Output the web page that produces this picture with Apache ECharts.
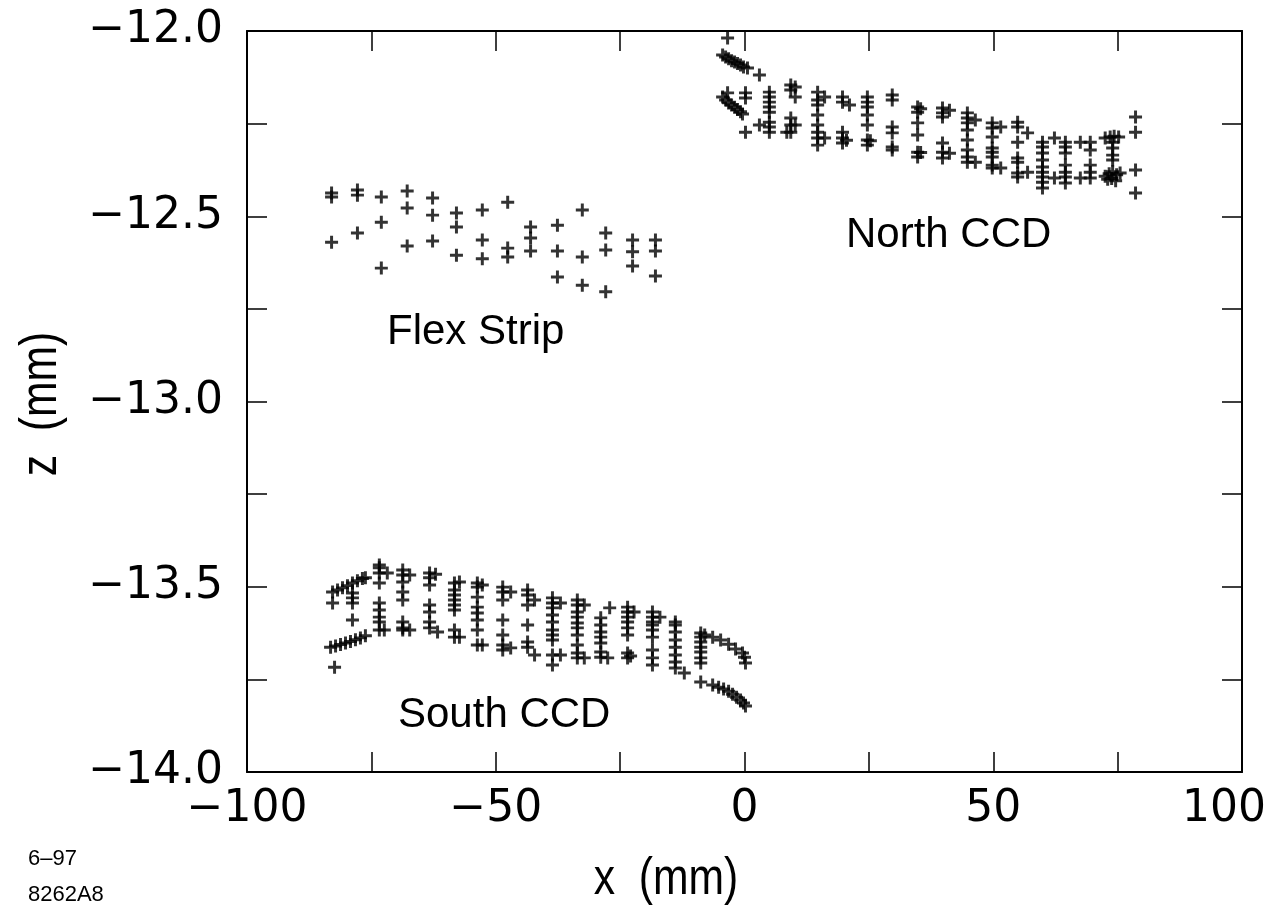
<!DOCTYPE html>
<html>
<head>
<meta charset="utf-8">
<script src="https://cdn.jsdelivr.net/npm/echarts@6/dist/echarts.min.js"></script>
<style>
html,body{margin:0;padding:0;background:#fff;overflow:hidden;}
#chart{width:1272px;height:922px;}
</style>
</head>
<body>
<div id="chart"></div>
<script>
// Flex strip points [x (mm), z (mm)]
var flexStrip = [
[-83.0,-12.437],[-83.0,-12.448],[-83.0,-12.570],
[-77.8,-12.429],[-77.8,-12.443],[-77.8,-12.545],
[-73.0,-12.448],[-73.0,-12.516],[-73.0,-12.640],
[-67.8,-12.432],[-67.8,-12.478],[-67.8,-12.580],
[-62.7,-12.451],[-62.7,-12.497],[-62.7,-12.567],
[-57.9,-12.491],[-57.9,-12.529],[-57.9,-12.605],
[-52.7,-12.483],[-52.7,-12.564],[-52.7,-12.615],
[-47.6,-12.462],[-47.6,-12.586],[-47.6,-12.610],
[-43.0,-12.529],[-43.0,-12.559],[-43.0,-12.594],
[-37.6,-12.524],[-37.6,-12.594],[-37.6,-12.664],
[-32.6,-12.483],[-32.6,-12.610],[-32.6,-12.686],
[-27.9,-12.545],[-27.9,-12.591],[-27.9,-12.704],
[-22.5,-12.564],[-22.5,-12.596],[-22.5,-12.634],
[-17.9,-12.564],[-17.9,-12.594],[-17.9,-12.661]
];

// North CCD points
var northCCD = [
[-3.4,-12.019],
[-4.4,-12.065],[-3.8,-12.070],[-3.2,-12.075],[-2.6,-12.080],[-2.0,-12.084],[-1.4,-12.088],[-0.8,-12.092],[-0.2,-12.097],[0.6,-12.100],
[3.0,-12.119],
[-3.4,-12.167],[-4.4,-12.178],[-3.8,-12.186],[-3.2,-12.194],[-2.6,-12.200],[-2.0,-12.206],[-1.4,-12.212],[-0.8,-12.218],[-0.4,-12.224],
[0.2,-12.167],[0.2,-12.181],[0.2,-12.273],
[5.0,-12.165],[5.0,-12.178],[5.0,-12.192],[5.0,-12.205],[5.0,-12.219],[5.0,-12.246],[5.0,-12.259],[5.0,-12.273],[3.0,-12.254],
[9.3,-12.146],[9.3,-12.159],[10.2,-12.151],[10.2,-12.178],[9.3,-12.235],[9.3,-12.254],[9.3,-12.273],[10.2,-12.254],[8.5,-12.273],
[14.7,-12.165],[14.7,-12.186],[14.7,-12.200],[14.7,-12.227],[14.7,-12.254],[14.7,-12.273],[14.7,-12.289],[14.7,-12.308],[16.1,-12.178],[16.1,-12.289],
[19.7,-12.178],[19.7,-12.192],[19.7,-12.273],[19.7,-12.289],[19.7,-12.302],[21.1,-12.200],[20.5,-12.295],
[24.7,-12.178],[24.7,-12.192],[24.7,-12.205],[24.7,-12.227],[24.7,-12.254],[24.7,-12.294],[24.7,-12.308],[25.3,-12.296],
[29.7,-12.173],[29.7,-12.186],[29.7,-12.259],[29.7,-12.275],[29.7,-12.313],[29.7,-12.321],
[34.8,-12.205],[34.8,-12.219],[34.8,-12.248],[34.8,-12.281],[34.8,-12.327],[34.8,-12.340],[35.4,-12.210],[35.4,-12.328],
[39.8,-12.208],[39.8,-12.221],[39.8,-12.232],[39.8,-12.302],[39.8,-12.327],[39.8,-12.343],[41.2,-12.214],[41.2,-12.330],
[44.8,-12.221],[44.8,-12.235],[44.8,-12.248],[44.8,-12.267],[44.8,-12.294],[44.8,-12.321],[44.8,-12.340],[44.8,-12.354],[46.4,-12.240],[46.4,-12.354],
[49.8,-12.248],[49.8,-12.262],[49.8,-12.286],[49.8,-12.316],[49.8,-12.327],[49.8,-12.340],[49.8,-12.362],[49.8,-12.370],[51.5,-12.259],[51.5,-12.370],
[54.9,-12.246],[54.9,-12.259],[54.9,-12.300],[54.9,-12.343],[54.9,-12.354],[54.9,-12.383],[54.9,-12.394],[56.9,-12.275],[56.9,-12.381],
[59.9,-12.300],[59.9,-12.313],[59.9,-12.329],[59.9,-12.348],[59.9,-12.367],[59.9,-12.381],[59.9,-12.394],[59.9,-12.408],[59.9,-12.424],[62.3,-12.289],[62.3,-12.397],
[64.5,-12.300],[64.5,-12.313],[64.5,-12.329],[64.5,-12.362],[64.5,-12.381],[64.5,-12.394],[64.5,-12.410],[67.5,-12.300],[67.5,-12.397],
[69.5,-12.300],[69.5,-12.321],[69.5,-12.362],[69.5,-12.381],[69.5,-12.397],
[72.5,-12.289],[73.5,-12.286],[74.3,-12.284],[75.2,-12.286],[74.0,-12.300],[74.0,-12.316],[74.0,-12.335],[74.0,-12.348],
[72.5,-12.392],[73.3,-12.385],[74.0,-12.380],[74.8,-12.388],[75.5,-12.383],[73.8,-12.398],[74.6,-12.404],[73.0,-12.400],
[78.6,-12.232],[78.6,-12.273],[78.6,-12.375],[78.6,-12.437]
];

// South CCD points
var southCCD = [
[-82.8,-13.514],[-81.8,-13.509],[-80.8,-13.503],[-79.8,-13.497],[-78.8,-13.490],[-77.8,-13.484],[-76.8,-13.478],[-76.2,-13.476],
[-82.8,-13.544],
[-78.8,-13.517],[-78.8,-13.530],[-78.8,-13.544],[-78.8,-13.590],
[-83.2,-13.663],[-82.2,-13.660],[-81.2,-13.656],[-80.2,-13.652],[-79.2,-13.648],[-78.2,-13.643],[-77.2,-13.638],[-76.2,-13.632],
[-82.4,-13.717],
[-73.4,-13.441],[-73.4,-13.449],[-73.4,-13.463],[-73.4,-13.490],[-71.8,-13.463],[-73.4,-13.544],[-73.4,-13.563],[-73.4,-13.582],[-73.4,-13.595],[-73.4,-13.617],[-72.4,-13.617],
[-68.7,-13.455],[-68.7,-13.468],[-68.7,-13.487],[-68.7,-13.514],[-68.7,-13.536],[-67.3,-13.468],[-68.7,-13.595],[-68.7,-13.611],[-68.7,-13.617],[-67.3,-13.617],
[-63.3,-13.463],[-63.3,-13.476],[-63.3,-13.495],[-62.1,-13.466],[-63.3,-13.549],[-63.3,-13.568],[-63.3,-13.595],[-63.3,-13.611],[-61.7,-13.622],
[-58.3,-13.490],[-58.3,-13.509],[-58.3,-13.522],[-58.3,-13.536],[-58.3,-13.549],[-58.3,-13.563],[-58.3,-13.617],[-58.3,-13.636],[-57.3,-13.487],[-57.3,-13.636],
[-53.7,-13.490],[-53.7,-13.501],[-53.7,-13.528],[-53.7,-13.555],[-53.7,-13.571],[-53.7,-13.590],[-53.7,-13.617],[-52.7,-13.657],[-53.7,-13.657],[-52.7,-13.495],
[-48.6,-13.501],[-48.6,-13.514],[-48.6,-13.536],[-48.6,-13.590],[-48.6,-13.630],[-48.6,-13.657],[-48.6,-13.671],[-47.0,-13.665],[-47.0,-13.514],
[-43.6,-13.509],[-43.6,-13.522],[-43.6,-13.549],[-43.6,-13.603],[-43.6,-13.649],[-43.6,-13.663],[-42.2,-13.536],[-42.2,-13.684],
[-38.6,-13.530],[-38.6,-13.544],[-38.6,-13.557],[-38.6,-13.576],[-38.6,-13.595],[-38.6,-13.617],[-38.6,-13.630],[-38.6,-13.644],[-38.6,-13.684],[-38.6,-13.711],[-37.0,-13.684],[-37.0,-13.544],
[-33.6,-13.536],[-33.6,-13.549],[-33.6,-13.568],[-33.6,-13.582],[-33.6,-13.598],[-33.6,-13.611],[-33.6,-13.630],[-33.6,-13.657],[-33.6,-13.679],[-33.6,-13.692],[-32.2,-13.692],[-32.2,-13.549],
[-28.9,-13.584],[-28.9,-13.603],[-28.9,-13.622],[-28.9,-13.636],[-28.9,-13.652],[-28.9,-13.676],[-28.9,-13.690],[-27.1,-13.557],[-27.5,-13.692],
[-23.5,-13.555],[-23.5,-13.568],[-23.5,-13.582],[-23.5,-13.595],[-23.5,-13.611],[-23.5,-13.630],[-23.5,-13.679],[-23.5,-13.692],[-22.9,-13.687],[-22.2,-13.568],
[-18.5,-13.568],[-18.5,-13.582],[-18.5,-13.595],[-18.5,-13.603],[-18.5,-13.617],[-18.5,-13.636],[-18.5,-13.671],[-18.5,-13.692],[-18.5,-13.711],[-17.0,-13.582],
[-13.9,-13.595],[-13.9,-13.603],[-13.9,-13.622],[-13.9,-13.644],[-13.9,-13.663],[-13.9,-13.684],[-13.9,-13.703],[-13.9,-13.719],[-12.1,-13.733],
[-8.8,-13.625],[-8.8,-13.636],[-8.8,-13.649],[-8.8,-13.663],[-8.8,-13.676],[-8.8,-13.692],[-8.8,-13.706],
[-8.0,-13.630],[-6.4,-13.636],[-4.8,-13.644],[-3.2,-13.655],[-1.8,-13.668],[-0.4,-13.679],[0.0,-13.690],[0.2,-13.706],
[-8.8,-13.757],
[-6.4,-13.765],[-5.2,-13.771],[-4.2,-13.776],[-3.2,-13.782],[-2.4,-13.790],[-1.6,-13.798],[-0.8,-13.806],[-0.2,-13.814],[0.2,-13.822]
];

var regionLabels = ['North CCD', 'Flex Strip', 'South CCD'];
var xName = 'x  (mm)';
var zName = 'z  (mm)';
var footLines = ['6\u201397', '8262A8'];

var FONT = '"Liberation Sans", Arial, Helvetica, sans-serif';
var TICKFONT = '"DejaVu Sans", sans-serif';
var MINUS = '\u2212';
var PLUS = 'path://M5.4,0H8.6V5.4H14V8.6H8.6V14H5.4V8.6H0V5.4H5.4Z';

function fmtX(v) {
  if (Math.abs(v % 50) > 1e-9) return '';
  var s = v < 0 ? MINUS + Math.abs(v) : String(v);
  return v === 100 ? '{last|' + s + '}' : s;
}
function fmtZ(v) {
  var r = Math.round(v * 2);
  if (Math.abs(v * 2 - r) > 1e-6) return '';
  return (v < 0 ? MINUS : '') + Math.abs(v).toFixed(1);
}

var tick = {show: true, inside: true, length: 20, lineStyle: {color: '#000', width: 1.5}};
var line = {show: true, onZero: false, lineStyle: {color: '#000', width: 2}};

var chart = echarts.init(document.getElementById('chart'), null, {renderer: 'canvas'});
function scatter(data) {
  return {
    type: 'scatter', data: data, symbol: PLUS, symbolSize: 13,
    itemStyle: {color: '#000'}, silent: true, animation: false
  };
}
chart.setOption({
  animation: false,
  backgroundColor: '#fff',
  grid: {left: 247, right: 30, top: 31, bottom: 150, containLabel: false, outerBoundsMode: 'none'},
  xAxis: [
    {type: 'value', min: -100, max: 100, interval: 25, position: 'bottom',
     axisLine: line, axisTick: tick, splitLine: {show: false},
     axisLabel: {formatter: fmtX, color: '#000', fontSize: 44, fontFamily: TICKFONT, margin: 16,
       rich: {last: {fontSize: 44, fontFamily: TICKFONT, color: '#000', padding: [0, 36, 0, 0]}}}},
    {type: 'value', min: -100, max: 100, interval: 25, position: 'top',
     axisLine: line, axisTick: tick, splitLine: {show: false}, axisLabel: {show: false}}
  ],
  yAxis: [
    {type: 'value', min: -14, max: -12, interval: 0.25, position: 'left',
     axisLine: line, axisTick: tick, splitLine: {show: false},
     axisLabel: {formatter: fmtZ, color: '#000', fontSize: 44, fontFamily: TICKFONT, margin: 24}},
    {type: 'value', min: -14, max: -12, interval: 0.25, position: 'right',
     axisLine: line, axisTick: tick, splitLine: {show: false}, axisLabel: {show: false}}
  ],
  series: [scatter(flexStrip), scatter(northCCD), scatter(southCCD)],
  graphic: [
    {type: 'text', left: 846, top: 214, style: {text: regionLabels[0], font: '42px ' + FONT, fill: '#000'}},
    {type: 'text', left: 387, top: 311, style: {text: regionLabels[1], font: '42px ' + FONT, fill: '#000'}},
    {type: 'text', left: 398, top: 694, style: {text: regionLabels[2], font: '42px ' + FONT, fill: '#000'}},
    {type: 'text', x: 666, y: 880, scaleX: 0.82, style: {text: xName, font: '52px ' + FONT, fill: '#000', align: 'center', verticalAlign: 'middle'}},
    {type: 'text', x: 42, y: 404, rotation: Math.PI / 2, scaleX: 0.82, style: {text: zName, font: '52px ' + FONT, fill: '#000', align: 'center', verticalAlign: 'middle'}},
    {type: 'text', left: 28, top: 848, style: {text: footLines[0], font: '22px ' + FONT, fill: '#000'}},
    {type: 'text', left: 28, top: 884, style: {text: footLines[1], font: '22px ' + FONT, fill: '#000'}}
  ]
});
</script>
</body>
</html>
